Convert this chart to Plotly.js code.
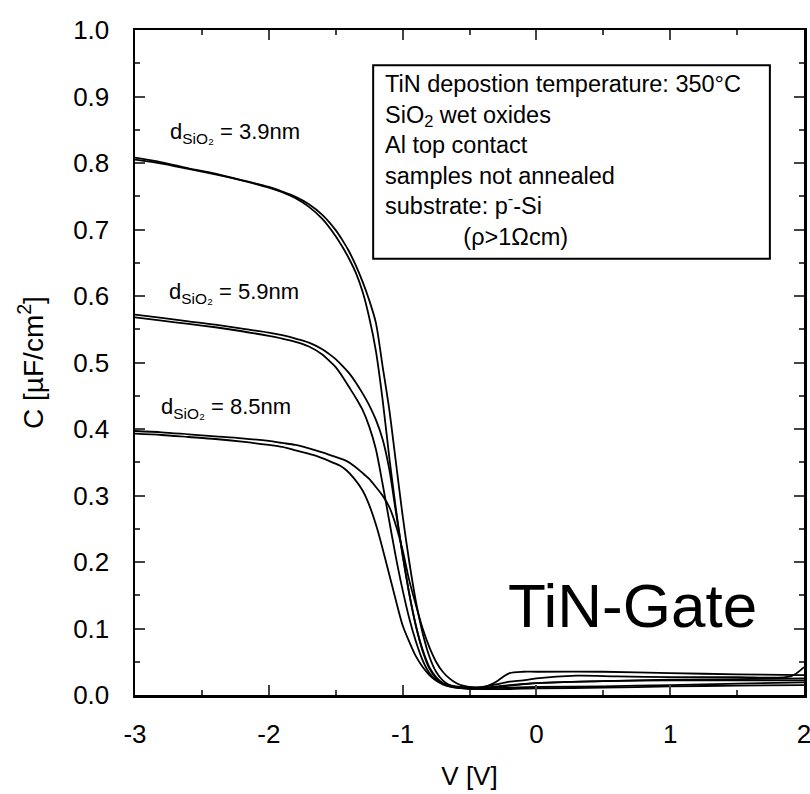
<!DOCTYPE html>
<html>
<head>
<meta charset="utf-8">
<script src="https://cdn.plot.ly/plotly-3.0.1.min.js"></script>
<style>html,body{margin:0;padding:0;background:#fff;}#plot{width:810px;height:794px;}</style>
</head>
<body>
<div id="plot"></div>
<script>
// ---- data ----
const V_39 = [-3, -2.8, -2.6, -2.4, -2.2, -2.0, -1.9, -1.8, -1.7, -1.6, -1.5, -1.45, -1.4, -1.35, -1.3, -1.25, -1.2, -1.15, -1.1, -1.05, -1.0, -0.95, -0.9, -0.85, -0.8, -0.75, -0.7, -0.65, -0.6, -0.55, -0.5, -0.4, -0.3, -0.2, 0, 0.5, 1, 1.5, 2];
const C_39a = [0.808, 0.801, 0.792, 0.784, 0.774, 0.763, 0.756, 0.747, 0.734, 0.716, 0.69, 0.674, 0.656, 0.635, 0.607, 0.568, 0.518, 0.445, 0.358, 0.28, 0.21, 0.152, 0.103, 0.066, 0.04, 0.025, 0.017, 0.013, 0.011, 0.01, 0.009, 0.01, 0.011, 0.014, 0.018, 0.021, 0.023, 0.024, 0.025];
const C_39b = [0.805, 0.799, 0.791, 0.783, 0.774, 0.764, 0.757, 0.749, 0.738, 0.722, 0.699, 0.684, 0.667, 0.646, 0.622, 0.594, 0.56, 0.495, 0.43, 0.35, 0.27, 0.2, 0.14, 0.093, 0.058, 0.035, 0.022, 0.015, 0.012, 0.011, 0.01, 0.01, 0.011, 0.011, 0.012, 0.013, 0.015, 0.017, 0.019];

const V_59 = [-3, -2.8, -2.6, -2.4, -2.2, -2.0, -1.9, -1.8, -1.7, -1.6, -1.55, -1.5, -1.45, -1.4, -1.35, -1.3, -1.25, -1.2, -1.15, -1.1, -1.05, -1.0, -0.95, -0.9, -0.85, -0.8, -0.75, -0.7, -0.65, -0.6, -0.5, -0.4, -0.2, 0, 0.5, 1, 1.5, 2];
const C_59a = [0.568, 0.563, 0.558, 0.553, 0.547, 0.54, 0.536, 0.531, 0.524, 0.512, 0.503, 0.493, 0.479, 0.463, 0.447, 0.429, 0.404, 0.37, 0.318, 0.262, 0.207, 0.158, 0.115, 0.08, 0.052, 0.033, 0.022, 0.016, 0.013, 0.011, 0.01, 0.011, 0.015, 0.018, 0.021, 0.022, 0.022, 0.022];
const C_59b = [0.572, 0.567, 0.562, 0.557, 0.551, 0.545, 0.541, 0.536, 0.53, 0.52, 0.513, 0.505, 0.495, 0.484, 0.47, 0.454, 0.436, 0.414, 0.385, 0.34, 0.275, 0.212, 0.152, 0.104, 0.068, 0.042, 0.027, 0.018, 0.014, 0.012, 0.01, 0.009, 0.009, 0.01, 0.011, 0.013, 0.014, 0.015];

const V_85a = [-3, -2.8, -2.6, -2.4, -2.2, -2.0, -1.9, -1.8, -1.7, -1.6, -1.5, -1.42, -1.36, -1.3, -1.25, -1.2, -1.15, -1.1, -1.05, -1.0, -0.95, -0.9, -0.85, -0.8, -0.75, -0.7, -0.65, -0.6, -0.55, -0.5, -0.4, -0.3, -0.2, -0.1, 0, 0.3, 0.6, 1, 1.5, 1.9, 2];
const C_85a = [0.397, 0.395, 0.392, 0.389, 0.386, 0.382, 0.379, 0.376, 0.371, 0.365, 0.358, 0.352, 0.344, 0.334, 0.325, 0.313, 0.3, 0.283, 0.255, 0.218, 0.172, 0.135, 0.1, 0.072, 0.05, 0.035, 0.025, 0.018, 0.014, 0.012, 0.012, 0.016, 0.02, 0.022, 0.025, 0.029, 0.028, 0.027, 0.027, 0.028, 0.042];
const V_85b = [-3, -2.8, -2.6, -2.4, -2.2, -2.0, -1.9, -1.8, -1.67, -1.55, -1.47, -1.42, -1.36, -1.3, -1.25, -1.19, -1.13, -1.07, -1.0, -0.95, -0.9, -0.85, -0.8, -0.75, -0.7, -0.6, -0.5, -0.45, -0.4, -0.35, -0.3, -0.25, -0.2, -0.1, 0, 0.5, 1, 1.5, 2];
const C_85b = [0.393, 0.391, 0.388, 0.385, 0.381, 0.376, 0.373, 0.368, 0.361, 0.352, 0.345, 0.338, 0.325, 0.308, 0.286, 0.25, 0.205, 0.158, 0.105, 0.08, 0.058, 0.042, 0.03, 0.022, 0.017, 0.013, 0.011, 0.011, 0.012, 0.015, 0.02, 0.027, 0.033, 0.035, 0.035, 0.035, 0.033, 0.031, 0.03];

const xTickVals = [-3, -2, -1, 0, 1, 2];
const xTickText = ['-3', '-2', '-1', '0', '1', '2'];
const curveLabels = ['d<sub>SiO₂</sub> = 3.9nm', 'd<sub>SiO₂</sub> = 5.9nm', 'd<sub>SiO₂</sub> = 8.5nm'];
const labelX = [-2.75, -2.76, -2.82];
const labelY = [0.845, 0.605, 0.432];
const infoLines = ['TiN depostion temperature: 350°C', 'SiO<sub>2</sub> wet oxides', 'Al top contact', 'samples not annealed', 'substrate: p<sup>-</sup>-Si', '\u00A0\u00A0\u00A0\u00A0\u00A0\u00A0\u00A0\u00A0\u00A0\u00A0\u00A0\u00A0(ρ>1Ωcm)'];
const gateLabel = 'TiN-Gate';

const FONT = 'Liberation Sans, Arial, sans-serif';
const line = {color: '#000', width: 1.8, shape: 'spline', smoothing: 0.8};
const series = [[V_39, C_39a], [V_39, C_39b], [V_59, C_59a], [V_59, C_59b], [V_85a, C_85a], [V_85b, C_85b]];
const traces = series.map(s => ({x: s[0], y: s[1], mode: 'lines', line: line, hoverinfo: 'skip', showlegend: false}));

const annotations = curveLabels.map((t, i) => ({
  x: labelX[i], y: labelY[i], xref: 'x', yref: 'y', xanchor: 'left', yanchor: 'middle',
  text: t, showarrow: false, font: {family: FONT, size: 22, color: '#000'}
}));
annotations.push({
  x: 0.37, y: 0.941, xref: 'paper', yref: 'paper', xanchor: 'left', yanchor: 'top', align: 'left',
  text: infoLines.join('<br>'), showarrow: false, font: {family: FONT, size: 23.5, color: '#000'}
});
annotations.push({
  x: 0.744, y: 0.135, xref: 'paper', yref: 'paper', xanchor: 'center', yanchor: 'middle',
  text: gateLabel, showarrow: false, font: {family: FONT, size: 62, color: '#000'}
});

const layout = {
  width: 810, height: 794,
  margin: {l: 135, r: 6, t: 30, b: 99},
  paper_bgcolor: '#fff', plot_bgcolor: '#fff',
  font: {family: FONT, color: '#000'},
  xaxis: {
    range: [-3, 2], tickmode: 'array', tickvals: xTickVals, ticktext: xTickText,
    ticks: 'inside', ticklen: 10, tickwidth: 2,
    minor: {dtick: 0.5, tick0: -3, ticks: 'inside', ticklen: 5, tickwidth: 2},
    showline: true, linewidth: 2.5, linecolor: '#000', mirror: 'ticks',
    showgrid: false, zeroline: false, ticklabelstandoff: 14, ticklabeloverflow: 'allow',
    tickfont: {family: FONT, size: 26, color: '#000'},
    title: {text: 'V [V]', font: {family: FONT, size: 26, color: '#000'}, standoff: 19}
  },
  yaxis: {
    range: [0, 1], tick0: 0, dtick: 0.1, tickformat: '.1f', ticks: 'inside', ticklen: 10, tickwidth: 2,
    minor: {dtick: 0.05, ticks: 'inside', ticklen: 5, tickwidth: 2},
    showline: true, linewidth: 2.5, linecolor: '#000', mirror: 'ticks',
    showgrid: false, zeroline: false, ticklabelstandoff: 18, ticklabeloverflow: 'allow',
    tickfont: {family: FONT, size: 26, color: '#000'},
    title: {text: 'C [µF/cm<sup>2</sup>]', font: {family: FONT, size: 28, color: '#000'}, standoff: 22}
  },
  shapes: [{type: 'rect', xref: 'paper', yref: 'paper', x0: 0.356, x1: 0.949, y0: 0.656, y1: 0.947,
            line: {color: '#000', width: 2}, fillcolor: 'rgba(0,0,0,0)'}],
  annotations: annotations
};

Plotly.newPlot('plot', traces, layout, {displayModeBar: false, staticPlot: true});
</script>
</body>
</html>
